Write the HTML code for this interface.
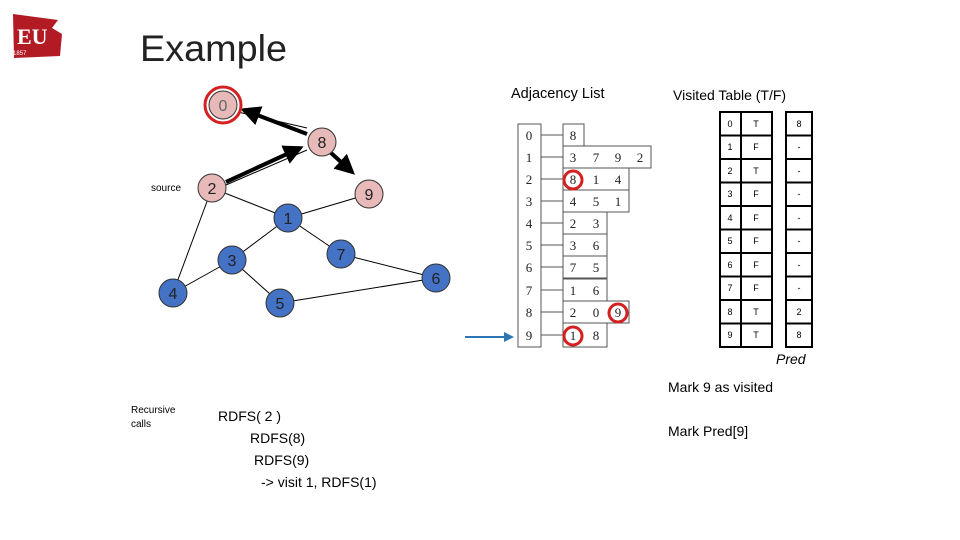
<!DOCTYPE html>
<html><head><meta charset="utf-8"><style>
html,body{margin:0;padding:0;background:#fff;}
svg{display:block;font-family:"Liberation Sans",sans-serif;}
</style></head><body>
<svg width="960" height="540" viewBox="0 0 960 540" xmlns="http://www.w3.org/2000/svg">
<defs>
<marker id="ah" markerWidth="5" markerHeight="5" refX="4" refY="2.5" orient="auto" markerUnits="strokeWidth"><path d="M0,0 L5,2.5 L0,5 z" fill="#000"/></marker>
<marker id="bh" markerWidth="5" markerHeight="5" refX="4" refY="2.5" orient="auto" markerUnits="strokeWidth"><path d="M0,0 L5,2.5 L0,5 z" fill="#2e75b6"/></marker>
</defs>
<!-- logo -->
<path d="M13,14 L58,20 L52,28 L62,34 L60,56 L14,58 Z" fill="#b31b24"/>
<text x="17" y="44" font-size="22" font-weight="bold" fill="#fff" font-family="Liberation Serif,serif">EU</text>
<text x="13" y="55" font-size="6" fill="#fff">1857</text>
<text x="140" y="61" font-size="37" fill="#222" textLength="147" lengthAdjust="spacingAndGlyphs">Example</text>

<!-- edges -->
<g stroke="#000" stroke-width="1" fill="none">
<line x1="212" y1="188" x2="288" y2="218"/>
<line x1="369" y1="194" x2="288" y2="218"/>
<line x1="212" y1="188" x2="173" y2="293"/>
<line x1="288" y1="218" x2="232" y2="260"/>
<line x1="288" y1="218" x2="341" y2="254"/>
<line x1="232" y1="260" x2="173" y2="293"/>
<line x1="232" y1="260" x2="280" y2="303"/>
<line x1="341" y1="254" x2="436" y2="278"/>
<line x1="280" y1="303" x2="436" y2="278"/>
<line x1="238" y1="112" x2="307" y2="128"/>
<line x1="226" y1="185" x2="307" y2="150"/>
</g>
<g stroke="#000" stroke-width="4" fill="none">
<line x1="307" y1="134" x2="244" y2="110" marker-end="url(#ah)"/>
<line x1="226" y1="182" x2="300" y2="148" marker-end="url(#ah)"/>
<line x1="330" y1="152" x2="352" y2="172" marker-end="url(#ah)"/>
</g>
<!-- nodes -->
<g stroke="#333" stroke-width="1">
<circle cx="223" cy="105" r="14" fill="#e8b9b9"/>
<circle cx="223" cy="105" r="18" fill="none" stroke="#d42020" stroke-width="3"/>
<circle cx="322" cy="142" r="14" fill="#e8b9b9"/>
<circle cx="212" cy="188" r="14" fill="#e8b9b9"/>
<circle cx="369" cy="194" r="14" fill="#e8b9b9"/>
<circle cx="288" cy="218" r="14" fill="#4472c4"/>
<circle cx="232" cy="260" r="14" fill="#4472c4"/>
<circle cx="341" cy="254" r="14" fill="#4472c4"/>
<circle cx="173" cy="293" r="14" fill="#4472c4"/>
<circle cx="280" cy="303" r="14" fill="#4472c4"/>
<circle cx="436" cy="278" r="14" fill="#4472c4"/>
</g>
<g font-size="16" text-anchor="middle" fill="#222">
<text x="223" y="111" fill="#666">0</text><text x="322" y="148">8</text><text x="212" y="194">2</text><text x="369" y="200">9</text>
<text x="288" y="224">1</text><text x="232" y="266">3</text><text x="341" y="260">7</text><text x="173" y="299">4</text><text x="280" y="309">5</text><text x="436" y="284">6</text>
</g>
<text x="151" y="191" font-size="10">source</text>

<!-- adjacency -->
<text x="511" y="98" font-size="14.5">Adjacency List</text>
<g font-family="Liberation Serif,serif" font-size="13" fill="#222" text-anchor="middle">
<rect x="518" y="124" width="23" height="223" fill="#fff" stroke="#555"/>
<g stroke="#555" fill="none">
<rect x="563" y="124" width="21" height="22"/>
<rect x="563" y="146" width="88" height="22"/>
<rect x="563" y="168" width="66" height="22"/>
<rect x="563" y="190" width="66" height="22"/>
<rect x="563" y="212" width="44" height="22"/>
<rect x="563" y="234" width="44" height="22"/>
<rect x="563" y="256" width="44" height="22"/>
<rect x="563" y="279" width="44" height="22"/>
<rect x="563" y="301" width="66" height="22"/>
<rect x="563" y="323" width="44" height="24"/>
<path d="M541,135h22M541,157h22M541,179h22M541,201h22M541,223h22M541,245h22M541,267h22M541,290h22M541,312h22M541,335h22"/>
</g>
<text x="529" y="140">0</text><text x="529" y="162">1</text><text x="529" y="184">2</text><text x="529" y="206">3</text><text x="529" y="228">4</text><text x="529" y="250">5</text><text x="529" y="272">6</text><text x="529" y="295">7</text><text x="529" y="317">8</text><text x="529" y="340">9</text>
<text x="573" y="140">8</text>
<text x="573" y="162">3</text><text x="596" y="162">7</text><text x="618" y="162">9</text><text x="640" y="162">2</text>
<text x="573" y="184">8</text><text x="596" y="184">1</text><text x="618" y="184">4</text>
<text x="573" y="206">4</text><text x="596" y="206">5</text><text x="618" y="206">1</text>
<text x="573" y="228">2</text><text x="596" y="228">3</text>
<text x="573" y="250">3</text><text x="596" y="250">6</text>
<text x="573" y="272">7</text><text x="596" y="272">5</text>
<text x="573" y="295">1</text><text x="596" y="295">6</text>
<text x="573" y="317">2</text><text x="596" y="317">0</text><text x="618" y="317">9</text>
<text x="573" y="340">1</text><text x="596" y="340">8</text>
</g>
<g fill="none" stroke="#d42020" stroke-width="3">
<circle cx="573" cy="180" r="9"/><circle cx="618" cy="313" r="9"/><circle cx="573" cy="336" r="9"/>
</g>
<line x1="465" y1="337" x2="512" y2="337" stroke="#2e75b6" stroke-width="2" marker-end="url(#bh)"/>

<!-- visited table -->
<text x="673" y="100" font-size="14">Visited Table (T/F)</text>
<g stroke="#000" stroke-width="2" fill="#fff">
<rect x="720" y="112" width="52" height="235"/>
<rect x="786" y="112" width="26" height="235"/>
<path d="M741,112v235M720,135.5h52M720,159h52M720,182.5h52M720,206h52M720,229.5h52M720,253h52M720,276.5h52M720,300h52M720,323.5h52M786,135.5h26M786,159h26M786,182.5h26M786,206h26M786,229.5h26M786,253h26M786,276.5h26M786,300h26M786,323.5h26" fill="none"/>
</g>
<g font-size="9" text-anchor="middle" fill="#000">
<text x="730" y="127">0</text><text x="756" y="127">T</text><text x="799" y="127">8</text>
<text x="730" y="150">1</text><text x="756" y="150">F</text><text x="799" y="150">-</text>
<text x="730" y="174">2</text><text x="756" y="174">T</text><text x="799" y="174">-</text>
<text x="730" y="197">3</text><text x="756" y="197">F</text><text x="799" y="197">-</text>
<text x="730" y="221">4</text><text x="756" y="221">F</text><text x="799" y="221">-</text>
<text x="730" y="244">5</text><text x="756" y="244">F</text><text x="799" y="244">-</text>
<text x="730" y="268">6</text><text x="756" y="268">F</text><text x="799" y="268">-</text>
<text x="730" y="291">7</text><text x="756" y="291">F</text><text x="799" y="291">-</text>
<text x="730" y="315">8</text><text x="756" y="315">T</text><text x="799" y="315">2</text>
<text x="730" y="338">9</text><text x="756" y="338">T</text><text x="799" y="338">8</text>
</g>
<text x="776" y="364" font-size="14" font-style="italic">Pred</text>
<text x="668" y="392" font-size="14">Mark 9 as visited</text>
<text x="668" y="436" font-size="14">Mark Pred[9]</text>

<text x="131" y="413" font-size="10">Recursive</text>
<text x="131" y="427" font-size="10">calls</text>
<g font-size="14">
<text x="218" y="421">RDFS( 2 )</text>
<text x="250" y="443">RDFS(8)</text>
<text x="254" y="465">RDFS(9)</text>
<text x="261" y="487">-&gt; visit 1, RDFS(1)</text>
</g>
</svg>
</body></html>
